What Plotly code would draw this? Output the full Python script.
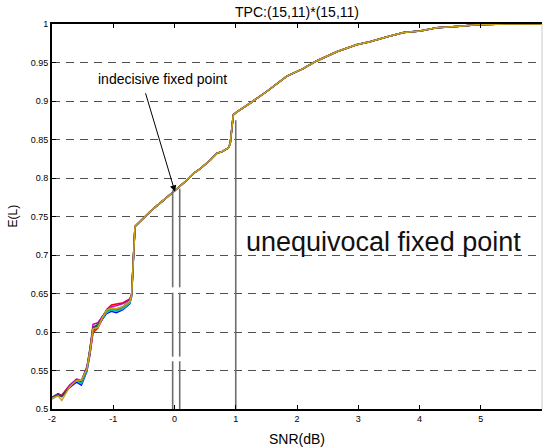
import plotly.graph_objects as go

# ---------------- data ----------------
snr = [-2.0, -1.9, -1.84, -1.71, -1.6, -1.52, -1.43, -1.38, -1.33, -1.25, -1.18, -1.11,
       -1.03, -0.95, -0.84, -0.73, -0.70, -0.67, -0.645, -0.62, -0.35, -0.24, -0.13, 0.04,
       0.2, 0.31, 0.42, 0.58, 0.69, 0.77, 0.88, 0.91, 0.96, 1.02, 1.23, 1.5, 1.83, 2.1,
       2.32, 2.65, 2.97, 3.19, 3.46, 3.74, 4.01, 4.28, 4.66, 4.93, 5.42, 6.0]
el_base = [0.514, 0.518, 0.516, 0.529, 0.537, 0.536, 0.552, 0.575, 0.605, 0.609, 0.618, 0.627,
           0.631, 0.630, 0.633, 0.640, 0.648, 0.698, 0.737, 0.739, 0.760, 0.767, 0.774, 0.786,
           0.797, 0.806, 0.812, 0.823, 0.832, 0.834, 0.839, 0.845, 0.882, 0.886, 0.897, 0.912,
           0.932, 0.942, 0.952, 0.964, 0.973, 0.977, 0.983, 0.989, 0.991, 0.995, 0.997, 0.999,
           1.0, 1.0]

# per-realisation deviations at low SNR (first 17 points)
dev_blue = [0.001, 0.002, 0.001, -0.001, -0.002, -0.005, -0.003, -0.004, -0.003, -0.002,
            -0.002, -0.003, -0.004, -0.005, -0.004, -0.003, -0.002]
dev_green = [0.0, 0.001, 0.002, 0.0, 0.001, -0.002, 0.0, 0.002, 0.001, -0.001, 0.002, 0.0,
             -0.002, -0.002, -0.001, 0.0, 0.0]
dev_red = [0.0, 0.0, 0.002, 0.002, 0.001, 0.0, 0.001, -0.003, -0.006, -0.004, -0.001, 0.002,
           0.004, 0.006, 0.005, 0.003, 0.001]
dev_cyan = [-0.001, 0.0, 0.0, 0.001, 0.0, -0.003, -0.002, 0.0, 0.002, 0.0, -0.001, -0.002,
            -0.002, -0.003, -0.003, -0.002, -0.001]
dev_magenta = [0.0, 0.001, 0.001, 0.002, 0.002, 0.001, 0.003, 0.003, 0.005, 0.003, 0.002,
               0.001, 0.002, 0.004, 0.004, 0.002, 0.001]
dev_dark = [0.001, 0.0, 0.0, 0.0, 0.001, 0.0, 0.0, 0.001, 0.0, 0.001, 0.0, 0.001, 0.0, 0.0,
            0.0, 0.001, 0.0]
dev_yellow = [0.0, -0.001, -0.005, 0.0, 0.0, 0.001, 0.0, 0.0, -0.001, -0.003, 0.0, 0.001,
              0.0, 0.0, 0.0, 0.0, 0.0]

series = [("#0000ff", dev_blue), ("#00a000", dev_green), ("#ff0000", dev_red),
          ("#00bfbf", dev_cyan), ("#c000c0", dev_magenta), ("#404040", dev_dark),
          ("#c8a418", dev_yellow)]

# vertical marker lines
vline_x = [-0.03, 0.085, 1.0]
vline_top = [0.784, 0.786, 0.875]
vline_gaps = [[(0.562, 0.568), (0.651, 0.658)], [(0.562, 0.568), (0.651, 0.658)], []]

y_ticks = [0.5, 0.55, 0.6, 0.65, 0.7, 0.75, 0.8, 0.85, 0.9, 0.95, 1.0]
y_ticklabels = ["0.5", "0.55", "0.6", "0.65", "0.7", "0.75", "0.8", "0.85", "0.9", "0.95", "1"]
x_ticks = [-2, -1, 0, 1, 2, 3, 4, 5, 6]

fig = go.Figure()

for color, dev in series:
    full = dev + [0.0] * (len(el_base) - len(dev))
    ys = [b + d for b, d in zip(el_base, full)]
    fig.add_trace(go.Scatter(x=snr, y=ys, mode="lines",
                             line=dict(color=color, width=1.5), showlegend=False,
                             hoverinfo="skip"))

for vx, vt, gaps in zip(vline_x, vline_top, vline_gaps):
    xs, ys = [], []
    lo = 0.5
    for g0, g1 in gaps:
        xs += [vx, vx, None]
        ys += [lo, g0, None]
        lo = g1
    xs += [vx, vx]
    ys += [lo, vt]
    fig.add_trace(go.Scatter(x=xs, y=ys, mode="lines",
                             line=dict(color="#6e6e6e", width=1.6), showlegend=False,
                             hoverinfo="skip"))

font_family = "Liberation Sans, Arial, sans-serif"

fig.update_layout(
    width=543, height=448,
    margin=dict(l=52, r=1, t=24, b=39),
    paper_bgcolor="white", plot_bgcolor="white",
    font=dict(family=font_family, color="black"),
    xaxis=dict(range=[-2, 6], tickvals=x_ticks, ticktext=[str(v) for v in x_ticks],
               showgrid=False, zeroline=False, showline=True, linecolor="black",
               linewidth=2, mirror="ticks", ticks="inside", ticklen=4, tickwidth=1,
               tickcolor="black", tickfont=dict(size=9)),
    yaxis=dict(range=[0.5, 1.0], tickvals=y_ticks, ticktext=y_ticklabels,
               showgrid=True, gridcolor="#505050", gridwidth=1, griddash="8px,6px",
               zeroline=False, showline=True, linecolor="black", linewidth=2,
               ticks="inside", ticklen=4, tickwidth=1, tickcolor="black",
               tickfont=dict(size=9)),
    shapes=[dict(type="line", xref="paper", yref="paper", x0=1, x1=1, y0=0, y1=1,
                 line=dict(color="#c8c8c8", width=1))],
    annotations=[
        dict(text="TPC:(15,11)*(15,11)", xref="paper", yref="paper", x=0.5, y=1,
             yshift=12, showarrow=False, font=dict(size=14), xanchor="center",
             yanchor="middle"),
        dict(text="SNR(dB)", xref="paper", yref="paper", x=0.5, y=0, yshift=-30,
             showarrow=False, font=dict(size=14), xanchor="center", yanchor="middle"),
        dict(text="E(L)", xref="paper", yref="paper", x=0, xshift=-40, y=0.5,
             textangle=-90, showarrow=False, font=dict(size=12), xanchor="center",
             yanchor="middle"),
        dict(text="indecisive fixed point", x=-0.204, y=0.9286, xref="x", yref="y",
             showarrow=False, font=dict(size=14), xanchor="center", yanchor="middle"),
        dict(text="", x=0.008, y=0.782, ax=-0.48, ay=0.912, xref="x", yref="y",
             axref="x", ayref="y", showarrow=True, arrowhead=2, arrowsize=1.3,
             arrowwidth=1, arrowcolor="black"),
        dict(text="unequivocal fixed point", x=3.42, y=0.717, xref="x", yref="y",
             showarrow=False, font=dict(size=27, color="#111"), xanchor="center",
             yanchor="middle"),
    ],
)

fig.write_html("out.html")
